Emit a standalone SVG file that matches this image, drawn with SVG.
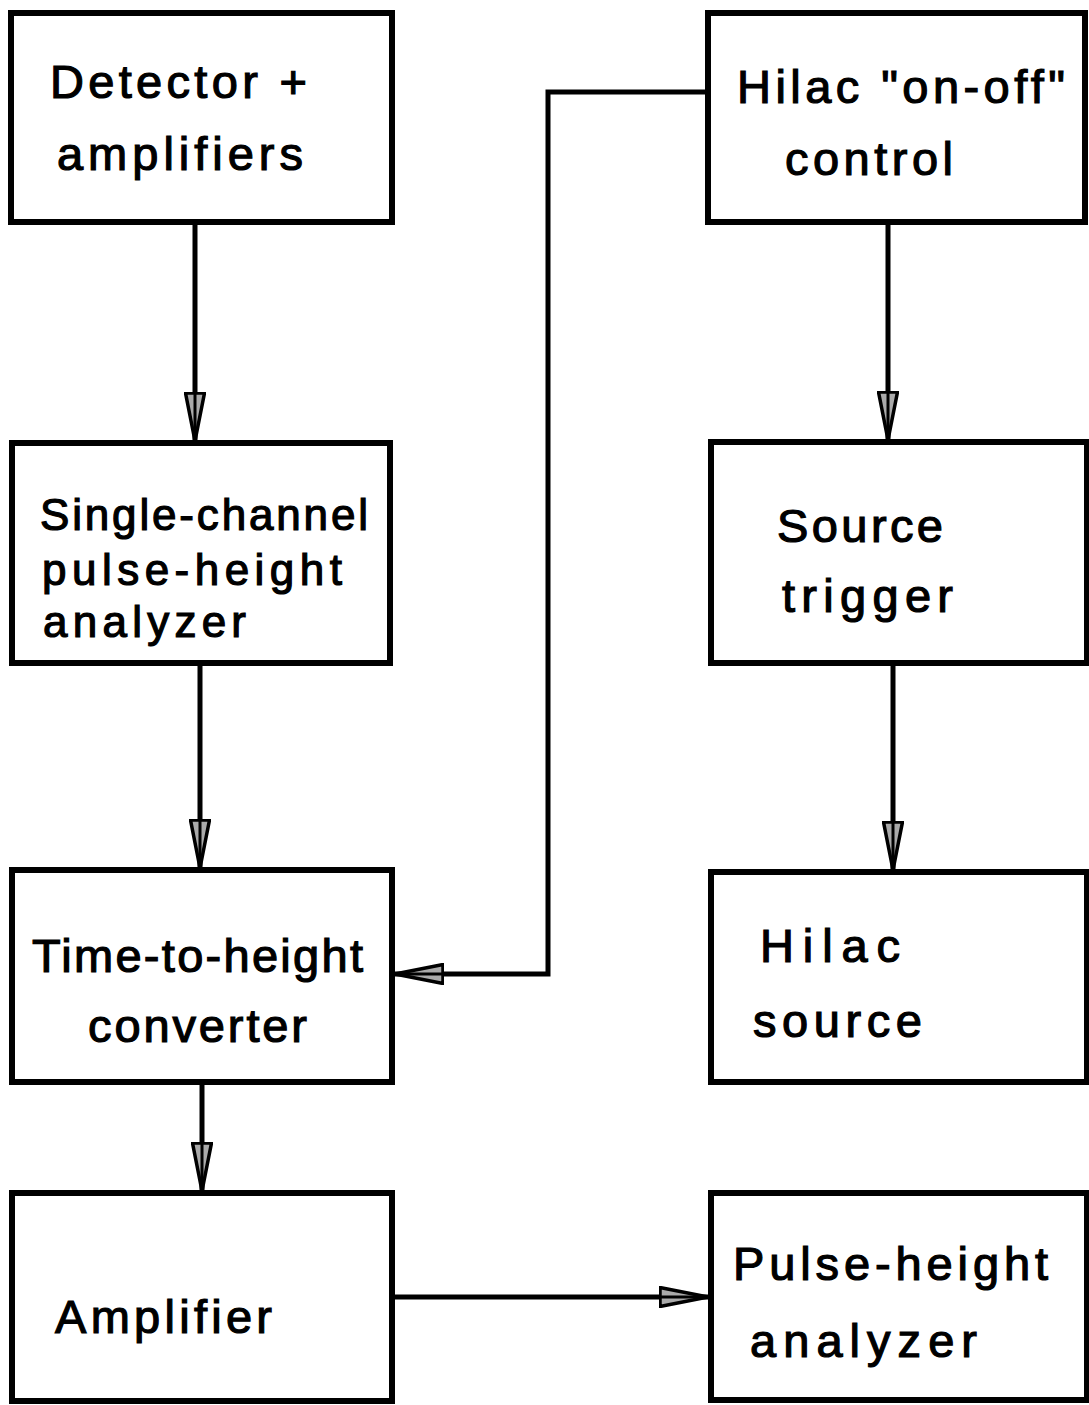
<svg xmlns="http://www.w3.org/2000/svg" width="1089" height="1405" viewBox="0 0 1089 1405">
<style>
.box{fill:#fff;stroke:#000;stroke-width:6}
.lbl{font-family:"Liberation Sans","DejaVu Sans",sans-serif;font-size:47px;fill:#000;stroke:#000;stroke-width:1.2}
.sm{font-size:44px}
.wire{fill:none;stroke:#000;stroke-width:5}
</style>
<defs>
<marker id="ah" markerUnits="userSpaceOnUse" viewBox="0 0 50 22" refX="49" refY="11" markerWidth="50" markerHeight="22" orient="auto">
<path d="M1,1.5 L49,11 L1,20.5 Z" fill="#aaa" stroke="#000" stroke-width="3.5" stroke-linejoin="round"/>
<path d="M1,11 L49,11" stroke="#000" stroke-width="3"/>
</marker>
</defs>
<rect width="1089" height="1405" fill="#fff"/>
<g id="connectors">
<path class="wire" d="M195,222 L195,441" marker-end="url(#ah)"/>
<path class="wire" d="M200,663 L200,868" marker-end="url(#ah)"/>
<path class="wire" d="M888,222 L888,440" marker-end="url(#ah)"/>
<path class="wire" d="M893,663 L893,870" marker-end="url(#ah)"/>
<path class="wire" d="M202,1082 L202,1191" marker-end="url(#ah)"/>
<path class="wire" d="M392,1297 L708,1297" marker-end="url(#ah)"/>
<path class="wire" d="M707,92 L548,92 L548,974 L395,974" marker-end="url(#ah)"/>
</g>
<g id="detector">
<rect class="box" x="11" y="13" width="381" height="209"/>
<text class="lbl" x="50" y="98" textLength="257" lengthAdjust="spacing">Detector +</text>
<text class="lbl" x="57" y="170" textLength="246" lengthAdjust="spacing">amplifiers</text>
</g>
<g id="onoff">
<rect class="box" x="708" y="13" width="377" height="209"/>
<text class="lbl" x="737" y="103" textLength="328" lengthAdjust="spacing">Hilac "on-off"</text>
<text class="lbl" x="785" y="175" textLength="168" lengthAdjust="spacing">control</text>
</g>
<g id="single">
<rect class="box" x="12" y="443" width="378" height="220"/>
<text class="lbl sm" x="40" y="530" textLength="328" lengthAdjust="spacing">Single-channel</text>
<text class="lbl sm" x="42" y="585" textLength="300" lengthAdjust="spacing">pulse-height</text>
<text class="lbl sm" x="43" y="637" textLength="203" lengthAdjust="spacing">analyzer</text>
</g>
<g id="trigger">
<rect class="box" x="711" y="442" width="376" height="221"/>
<text class="lbl" x="777" y="542" textLength="166" lengthAdjust="spacing">Source</text>
<text class="lbl" x="782" y="612" textLength="171" lengthAdjust="spacing">trigger</text>
</g>
<g id="tth">
<rect class="box" x="12" y="870" width="380" height="212"/>
<text class="lbl" x="32" y="972" textLength="331" lengthAdjust="spacing">Time-to-height</text>
<text class="lbl" x="88" y="1042" textLength="219" lengthAdjust="spacing">converter</text>
</g>
<g id="hsource">
<rect class="box" x="711" y="872" width="376" height="210"/>
<text class="lbl" x="760" y="962" textLength="140" lengthAdjust="spacing">Hilac</text>
<text class="lbl" x="753" y="1037" textLength="169" lengthAdjust="spacing">source</text>
</g>
<g id="amp">
<rect class="box" x="12" y="1193" width="380" height="208"/>
<text class="lbl" x="55" y="1333" textLength="217" lengthAdjust="spacing">Amplifier</text>
</g>
<g id="pha">
<rect class="box" x="711" y="1193" width="376" height="207"/>
<text class="lbl" x="733" y="1280" textLength="315" lengthAdjust="spacing">Pulse-height</text>
<text class="lbl" x="750" y="1357" textLength="227" lengthAdjust="spacing">analyzer</text>
</g>
</svg>
